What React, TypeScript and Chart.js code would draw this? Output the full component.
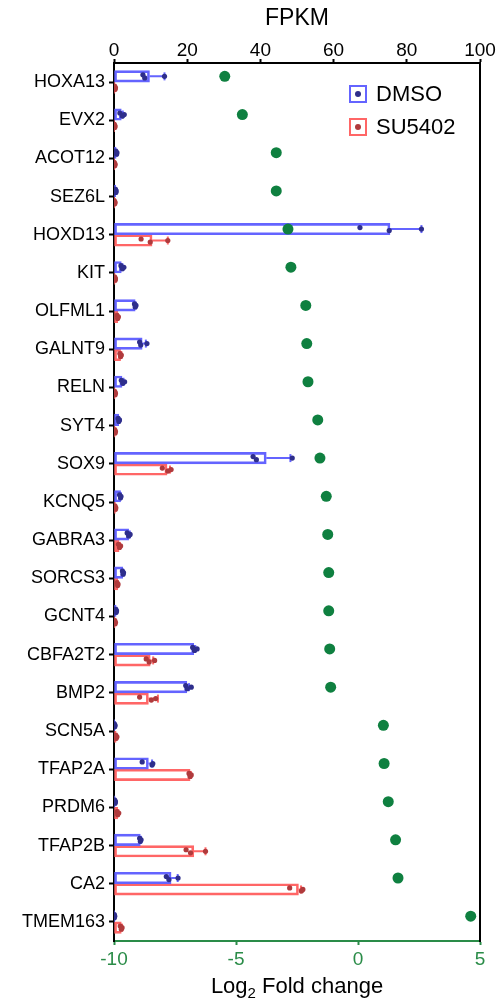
import React, { useEffect, useRef } from "react";
import { Chart, registerables } from "chart.js";

Chart.register(...registerables);

// ---------------- DATA ----------------
const genes = [
  "HOXA13", "EVX2", "ACOT12", "SEZ6L", "HOXD13", "KIT", "OLFML1", "GALNT9",
  "RELN", "SYT4", "SOX9", "KCNQ5", "GABRA3", "SORCS3", "GCNT4", "CBFA2T2",
  "BMP2", "SCN5A", "TFAP2A", "PRDM6", "TFAP2B", "CA2", "TMEM163",
];

const log2FoldChange = [
  -5.46, -4.74, -3.35, -3.35, -2.87, -2.75, -2.14, -2.10, -2.05, -1.65, -1.56,
  -1.30, -1.24, -1.20, -1.20, -1.16, -1.12, 1.04, 1.07, 1.24, 1.54, 1.64, 4.62,
];

const dmsoMean = [
  9.7, 2.0, 0.6, 0.5, 75.4, 2.0, 5.8, 7.7, 2.2, 1.3, 41.6, 1.8, 4.0, 2.4, 0.6,
  21.8, 19.9, 0.2, 9.4, 0.3, 7.2, 15.6, 0.1,
];
const dmsoErr = [
  4.1, 0.4, 0.1, 0.1, 8.6, 0.3, 0.1, 1.0, 0.4, 0.1, 6.6, 0.1, 0.3, 0.1, 0.1,
  0.4, 0.6, 0.05, 1.0, 0.05, 0.2, 1.8, 0.05,
];
const dmsoReps = [
  [7.9, 8.4, 13.8], [1.6, 2.3, 2.8], [0.5, 0.7, 0.8], [0.4, 0.5, 0.6],
  [67.2, 75.2, 84.0], [1.9, 2.3, 2.7], [5.6, 5.8, 6.0], [7.0, 7.3, 9.0],
  [2.0, 2.4, 2.9], [1.1, 1.3, 1.5], [38.0, 38.9, 48.7], [1.5, 1.8, 1.9],
  [3.6, 4.0, 4.4], [2.3, 2.5, 2.6], [0.5, 0.6, 0.7], [21.5, 22.0, 22.7],
  [19.6, 20.0, 21.1], [0.1, 0.2, 0.3], [7.7, 10.4, 10.6], [0.2, 0.3, 0.4],
  [7.0, 7.2, 7.4], [14.3, 15.0, 17.5], [0.1, 0.1, 0.2],
];

const su5402Mean = [
  0.3, 0.2, 0.2, 0.2, 10.4, 0.3, 1.0, 1.8, 0.3, 0.3, 14.5, 0.4, 1.4, 1.0, 0.3,
  9.9, 9.4, 0.6, 20.8, 1.0, 21.8, 50.4, 2.0,
];
const su5402Err = [
  0.1, 0.05, 0.05, 0.05, 4.3, 0.1, 0.1, 0.2, 0.1, 0.1, 0.8, 0.1, 0.2, 0.1, 0.1,
  0.8, 2.6, 0.1, 0.2, 0.2, 3.2, 0.7, 0.2,
];
const su5402Reps = [
  [0.2, 0.3, 0.4], [0.1, 0.2, 0.3], [0.1, 0.2, 0.3], [0.1, 0.2, 0.3],
  [7.4, 9.9, 14.7], [0.2, 0.3, 0.4], [0.8, 1.0, 1.2], [1.6, 1.8, 2.0],
  [0.2, 0.3, 0.4], [0.2, 0.3, 0.4], [13.2, 14.7, 15.6], [0.3, 0.4, 0.5],
  [1.2, 1.5, 1.8], [0.8, 1.0, 1.1], [0.2, 0.3, 0.4], [8.8, 9.6, 11.1],
  [7.0, 10.2, 11.4], [0.5, 0.6, 0.8], [20.5, 20.8, 21.1], [0.8, 1.0, 1.3],
  [19.7, 20.9, 25.0], [48.0, 51.2, 51.6], [1.7, 2.0, 2.2],
];

const fpkmTicks = [0, 20, 40, 60, 80, 100];
const foldTicks = [-10, -5, 0, 5];
const seriesNames = ["DMSO", "SU5402"];

// ---------------- STYLE ----------------
const FONT = "'Liberation Sans', Arial, Helvetica, sans-serif";
const BLUE = "#6464ff";
const RED = "#ff6666";
const NAVY = "#2e2e8c";
const DARKRED = "#b03a3c";
const GREEN = "#0f8040";
const AXIS_GREEN = "#2a8c48";
const OFF = 0.15;
const JITTER = [-0.04, 0.04, 0];

const barPoints = (means: number[], off: number) =>
  means.map((v, i) => ({ x: v, y: i + off }));
const repPoints = (reps: number[][], off: number) =>
  reps.flatMap((r, i) => r.map((v, k) => ({ x: v, y: i + off + JITTER[k] })));
const errSegments = (means: number[], errs: number[], off: number) =>
  means.flatMap((m, i) => [
    { x: m, y: i + off },
    { x: m + errs[i], y: i + off },
    { x: null, y: null },
  ]);
const errCaps = (means: number[], errs: number[], off: number) =>
  means.map((m, i) => ({ x: m + errs[i], y: i + off }));

const legendPlugin = {
  id: "customLegend",
  afterDraw(chart: any) {
    const { ctx, chartArea } = chart;
    const items = [
      { label: seriesNames[0], border: BLUE, dot: NAVY },
      { label: seriesNames[1], border: RED, dot: DARKRED },
    ];
    ctx.save();
    items.forEach((it, k) => {
      const bx = chartArea.right - 130;
      const by = chartArea.top + 23 + k * 33;
      ctx.lineWidth = 2;
      ctx.strokeStyle = it.border;
      ctx.strokeRect(bx, by, 16, 16);
      ctx.fillStyle = it.dot;
      ctx.beginPath();
      ctx.arc(bx + 8, by + 8, 3, 0, Math.PI * 2);
      ctx.fill();
      ctx.fillStyle = "#000";
      ctx.font = `22px ${FONT}`;
      ctx.textAlign = "left";
      ctx.textBaseline = "middle";
      ctx.fillText(it.label, bx + 26, by + 9);
    });
    ctx.restore();
  },
};

const bottomTitlePlugin = {
  id: "bottomTitle",
  afterDraw(chart: any) {
    const { ctx, chartArea } = chart;
    const cx = (chartArea.left + chartArea.right) / 2;
    const base = chartArea.bottom + 52;
    ctx.save();
    ctx.fillStyle = "#000";
    ctx.textBaseline = "alphabetic";
    ctx.textAlign = "left";
    const big = `22px ${FONT}`;
    const small = `15px ${FONT}`;
    ctx.font = big;
    const w1 = ctx.measureText("Log").width;
    const w3 = ctx.measureText(" Fold change").width;
    ctx.font = small;
    const w2 = ctx.measureText("2").width;
    let x = cx - (w1 + w2 + w3) / 2;
    ctx.font = big;
    ctx.fillText("Log", x, base);
    x += w1;
    ctx.font = small;
    ctx.fillText("2", x, base + 5);
    x += w2;
    ctx.font = big;
    ctx.fillText(" Fold change", x, base);
    ctx.restore();
  },
};

export default function App() {
  const ref = useRef<HTMLCanvasElement | null>(null);

  useEffect(() => {
    if (!ref.current) return;
    const yRange = { min: -0.5, max: genes.length - 0.5 };
    const barBase: any = {
      type: "bar",
      indexAxis: "y",
      xAxisID: "x",
      yAxisID: "y",
      backgroundColor: "rgba(255,255,255,0)",
      borderWidth: 2,
      borderSkipped: false,
      grouped: false,
      categoryPercentage: 1,
      barPercentage: 1,
      order: 5,
    };
    const chart = new Chart(ref.current, {
      type: "bar",
      data: {
        datasets: [
          { ...barBase, label: seriesNames[0], data: barPoints(dmsoMean, -OFF), borderColor: BLUE },
          { ...barBase, label: seriesNames[1], data: barPoints(su5402Mean, OFF), borderColor: RED },
          {
            type: "line", data: errSegments(dmsoMean, dmsoErr, -OFF), borderColor: BLUE,
            borderWidth: 2, pointRadius: 0, spanGaps: false, fill: false,
            xAxisID: "x", yAxisID: "y", order: 4,
          },
          {
            type: "line", data: errSegments(su5402Mean, su5402Err, OFF), borderColor: RED,
            borderWidth: 2, pointRadius: 0, spanGaps: false, fill: false,
            xAxisID: "x", yAxisID: "y", order: 4,
          },
          {
            type: "scatter", data: errCaps(dmsoMean, dmsoErr, -OFF), pointStyle: "line",
            rotation: 90, pointRadius: 4, borderWidth: 2, borderColor: BLUE,
            xAxisID: "x", yAxisID: "y", order: 3,
          },
          {
            type: "scatter", data: errCaps(su5402Mean, su5402Err, OFF), pointStyle: "line",
            rotation: 90, pointRadius: 4, borderWidth: 2, borderColor: RED,
            xAxisID: "x", yAxisID: "y", order: 3,
          },
          {
            type: "scatter", data: repPoints(dmsoReps, -OFF), pointRadius: 2.6,
            backgroundColor: NAVY, borderWidth: 0, xAxisID: "x", yAxisID: "y", order: 2,
          },
          {
            type: "scatter", data: repPoints(su5402Reps, OFF), pointRadius: 2.6,
            backgroundColor: DARKRED, borderWidth: 0, xAxisID: "x", yAxisID: "y", order: 2,
          },
          {
            type: "scatter", data: log2FoldChange.map((v, i) => ({ x: v, y: i - OFF })),
            pointRadius: 5.5, backgroundColor: GREEN, borderWidth: 0,
            xAxisID: "x2", yAxisID: "y", order: 1,
          },
        ] as any,
      },
      options: {
        responsive: false,
        animation: false,
        layout: { padding: { left: 0, right: 21, top: 0, bottom: 0 } },
        plugins: { legend: { display: false }, tooltip: { enabled: false } },
        scales: {
          x: {
            type: "linear",
            position: "top",
            offset: false,
            min: 0,
            max: 100,
            afterBuildTicks: (s: any) => { s.ticks = fpkmTicks.map((v) => ({ value: v })); },
            afterFit: (s: any) => { s.height = 63; },
            ticks: { color: "#000", font: { family: FONT, size: 19, lineHeight: 1 }, padding: -1 },
            grid: { display: true, offset: false, drawOnChartArea: false, drawTicks: true, tickLength: 4, tickColor: "#000", tickWidth: 2 },
            border: { display: true, color: "#000", width: 2 },
            title: { display: true, text: "FPKM", color: "#000", font: { family: FONT, size: 23 }, padding: { top: 5, bottom: 0 } },
          },
          x2: {
            type: "linear",
            position: "bottom",
            offset: false,
            min: -10,
            max: 5,
            afterBuildTicks: (s: any) => { s.ticks = foldTicks.map((v) => ({ value: v })); },
            afterFit: (s: any) => { s.height = 60; },
            ticks: { color: AXIS_GREEN, font: { family: FONT, size: 19, lineHeight: 1 }, padding: 5 },
            grid: { display: true, offset: false, drawOnChartArea: false, drawTicks: true, tickLength: 4, tickColor: AXIS_GREEN, tickWidth: 2 },
            border: { display: true, color: AXIS_GREEN, width: 2 },
          },
          y: {
            type: "linear",
            position: "left",
            reverse: true,
            offset: false,
            ...yRange,
            afterBuildTicks: (s: any) => { s.ticks = genes.map((_, i) => ({ value: i })); },
            afterFit: (s: any) => { s.width = 114; },
            ticks: {
              color: "#000",
              font: { family: FONT, size: 18 },
              padding: 4,
              callback: (v: any) => genes[v],
            },
            grid: { display: true, offset: false, drawOnChartArea: false, drawTicks: true, tickLength: 5, tickColor: "#000", tickWidth: 2 },
            border: { display: true, color: "#000", width: 2 },
          },
          yR: {
            type: "linear",
            position: "right",
            reverse: true,
            offset: false,
            ...yRange,
            afterFit: (s: any) => { s.width = 0; },
            ticks: { display: false },
            grid: { display: false, drawTicks: false },
            border: { display: true, color: "#000", width: 2 },
          },
        } as any,
      },
      plugins: [legendPlugin, bottomTitlePlugin],
    });
    return () => chart.destroy();
  }, []);

  return (
    <div style={{ position: "absolute", left: 0, top: 0, width: 501, height: 1001, background: "#fff" }}>
      <canvas ref={ref} width={501} height={1001} style={{ display: "block" }} />
    </div>
  );
}
